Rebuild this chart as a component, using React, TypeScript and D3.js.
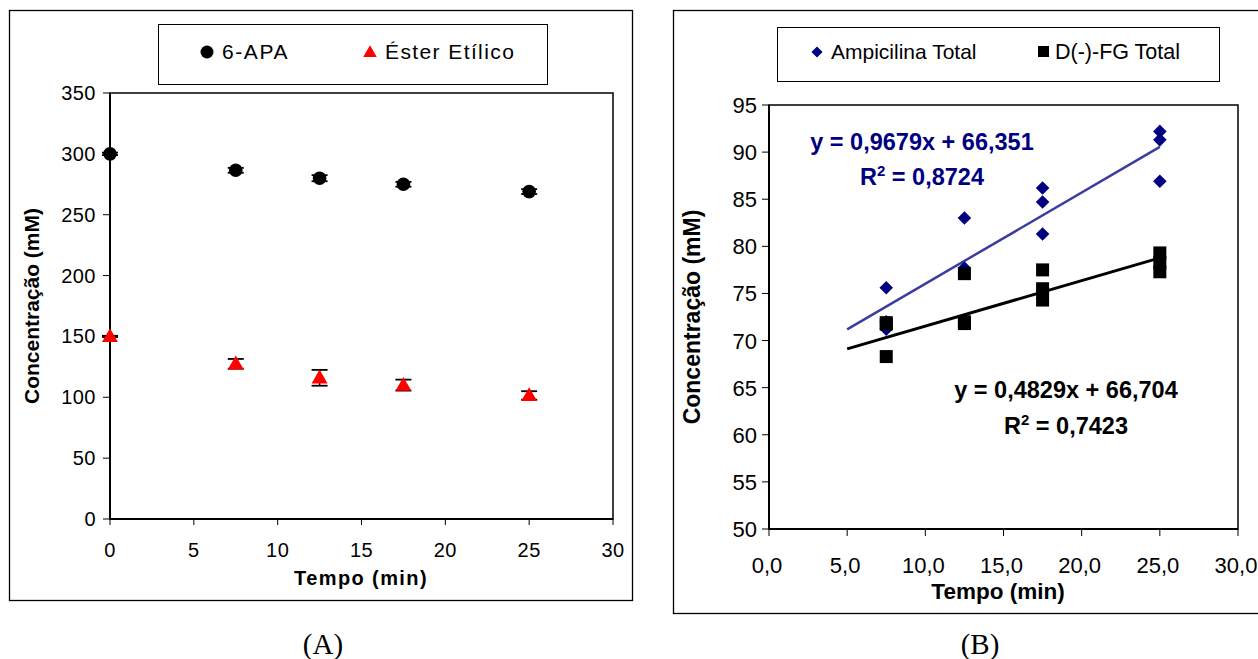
import React from "react";
import * as d3 from "d3";

// ---------- Panel A data ----------
const timesA = [0, 7.5, 12.5, 17.5, 25];
const apaValues = [300, 286.5, 280, 275, 269];
const apaErrors = [1, 2, 2.5, 2, 2];
const esterValues = [150, 127.5, 116, 110, 101.5];
const esterErrors = [0.5, 4, 6.5, 4.5, 3.5];
const ticksAX = [0, 5, 10, 15, 20, 25, 30];
const ticksAY = [0, 50, 100, 150, 200, 250, 300, 350];
const legendA = ["6-APA", "Éster Etílico"];

// ---------- Panel B data ----------
const timesB = [7.5, 7.5, 7.5, 12.5, 12.5, 12.5, 17.5, 17.5, 17.5, 25, 25, 25];
const ampValues = [75.6, 72.0, 71.2, 83.0, 77.7, 77.2, 86.2, 84.7, 81.3, 92.2, 91.3, 86.9];
const fgValues = [71.75, 71.9, 68.3, 77.1, 72.0, 71.8, 77.5, 75.5, 74.3, 79.3, 78.3, 77.3];
const ampTrend = [0.9679, 66.351]; // slope, intercept
const fgTrend = [0.4829, 66.704];
const trendRange = [5, 25];
const ticksBX = [0, 5, 10, 15, 20, 25, 30];
const ticksBY = [50, 55, 60, 65, 70, 75, 80, 85, 90, 95];
const legendB = ["Ampicilina Total", "D(-)-FG Total"];
const ampEq = ["y = 0,9679x + 66,351", "0,8724"];
const fgEq = ["y = 0,4829x + 66,704", "0,7423"];

const SANS = "'Liberation Sans', Arial, sans-serif";
const SERIF = "'Liberation Serif', 'Times New Roman', serif";

export default function App() {
  const ax = d3.scaleLinear().domain([0, 30]).range([110, 613]);
  const ay = d3.scaleLinear().domain([0, 350]).range([519, 93]);
  const bx = d3.scaleLinear().domain([0, 30]).range([769, 1238]);
  const by = d3.scaleLinear().domain([50, 95]).range([529, 105]);

  const tri = d3.symbol().type(d3.symbolTriangle).size(110);
  const triLeg = d3.symbol().type(d3.symbolTriangle).size(80);
  const dia = d3.symbol().type(d3.symbolSquare).size(92);
  const diaLeg = d3.symbol().type(d3.symbolSquare).size(62);

  const fmtB = (v: number) => d3.format(".1f")(v).replace(".", ",");

  const trendPath = (coef: number[]) =>
    d3
      .line<number>()
      .x((d) => bx(d))
      .y((d) => by(coef[0] * d + coef[1]))(trendRange) as string;

  return (
    <svg
      width={1258}
      height={659}
      style={{ position: "absolute", left: 0, top: 0, background: "#fff" }}
    >
      <rect x={0} y={0} width={1258} height={659} fill="#fff" />

      {/* ================= Panel A ================= */}
      <rect x={9.5} y={10.5} width={623} height={590} fill="none" stroke="#000" strokeWidth={1.3} />
      <rect x={158.5} y={24.5} width={389} height={60} fill="none" stroke="#000" strokeWidth={1} />
      <circle cx={207} cy={52} r={6.5} fill="#000" />
      <text x={222} y={59} fontFamily={SANS} fontSize={21} letterSpacing={1.6}>
        {legendA[0]}
      </text>
      <path d={triLeg() as string} transform="translate(370,53)" fill="#f00" />
      <text x={385} y={59} fontFamily={SANS} fontSize={21} letterSpacing={1.4}>
        {legendA[1]}
      </text>

      <rect x={ax(0)} y={ay(350)} width={ax(30) - ax(0)} height={ay(0) - ay(350)} fill="none" stroke="#000" strokeWidth={1.5} />
      <line x1={ax(0)} x2={ax(0)} y1={ay(350)} y2={ay(0)} stroke="#000" strokeWidth={2} />
      <line x1={ax(0)} x2={ax(30)} y1={ay(0)} y2={ay(0)} stroke="#000" strokeWidth={2} />

      {ticksAY.map((t) => (
        <g key={"ay" + t}>
          <line x1={ax(0) - 7} x2={ax(0)} y1={ay(t)} y2={ay(t)} stroke="#000" strokeWidth={1} />
          <text x={96} y={ay(t) + 7} textAnchor="end" fontFamily={SANS} fontSize={20} letterSpacing={0.5}>
            {t}
          </text>
        </g>
      ))}
      {ticksAX.map((t) => (
        <g key={"ax" + t}>
          <line x1={ax(t)} x2={ax(t)} y1={ay(0)} y2={ay(0) + 6} stroke="#000" strokeWidth={1} />
          <text x={ax(t)} y={557} textAnchor="middle" fontFamily={SANS} fontSize={20} letterSpacing={0.5}>
            {t}
          </text>
        </g>
      ))}
      <text x={361} y={585} textAnchor="middle" fontFamily={SANS} fontSize={20} fontWeight="bold" letterSpacing={1.4}>
        Tempo (min)
      </text>
      <text
        transform="translate(39,306) rotate(-90)"
        textAnchor="middle"
        fontFamily={SANS}
        fontSize={21}
        fontWeight="bold"
      >
        Concentração (mM)
      </text>

      {timesA.map((t, i) => (
        <g key={"apa" + i}>
          <line x1={ax(t)} x2={ax(t)} y1={ay(apaValues[i] - apaErrors[i])} y2={ay(apaValues[i] + apaErrors[i])} stroke="#000" strokeWidth={1.5} />
          <line x1={ax(t) - 8} x2={ax(t) + 8} y1={ay(apaValues[i] + apaErrors[i])} y2={ay(apaValues[i] + apaErrors[i])} stroke="#000" strokeWidth={1.8} />
          <line x1={ax(t) - 8} x2={ax(t) + 8} y1={ay(apaValues[i] - apaErrors[i])} y2={ay(apaValues[i] - apaErrors[i])} stroke="#000" strokeWidth={1.8} />
          <circle cx={ax(t)} cy={ay(apaValues[i])} r={6.8} fill="#000" />
        </g>
      ))}
      {timesA.map((t, i) => (
        <g key={"est" + i}>
          <line x1={ax(t)} x2={ax(t)} y1={ay(esterValues[i] - esterErrors[i])} y2={ay(esterValues[i] + esterErrors[i])} stroke="#000" strokeWidth={1.5} />
          <line x1={ax(t) - 8} x2={ax(t) + 8} y1={ay(esterValues[i] + esterErrors[i])} y2={ay(esterValues[i] + esterErrors[i])} stroke="#000" strokeWidth={1.8} />
          <line x1={ax(t) - 8} x2={ax(t) + 8} y1={ay(esterValues[i] - esterErrors[i])} y2={ay(esterValues[i] - esterErrors[i])} stroke="#000" strokeWidth={1.8} />
          <path d={tri() as string} transform={`translate(${ax(t)},${ay(esterValues[i]) + 1})`} fill="#f00" />
        </g>
      ))}

      <text x={323} y={654} textAnchor="middle" fontFamily={SERIF} fontSize={29}>
        (A)
      </text>

      {/* ================= Panel B ================= */}
      <rect x={673.5} y={10.5} width={600} height={603} fill="none" stroke="#000" strokeWidth={1.3} />
      <rect x={777.5} y={27.5} width={442} height={54} fill="none" stroke="#000" strokeWidth={1} />
      <path d={diaLeg() as string} transform="translate(817,52) rotate(45)" fill="#000080" />
      <text x={831} y={59} fontFamily={SANS} fontSize={21}>
        {legendB[0]}
      </text>
      <rect x={1038} y={46} width={11} height={11} fill="#000" />
      <text x={1055} y={59} fontFamily={SANS} fontSize={21.5}>
        {legendB[1]}
      </text>

      <rect x={bx(0)} y={by(95)} width={bx(30) - bx(0)} height={by(50) - by(95)} fill="none" stroke="#000" strokeWidth={1.5} />
      <line x1={bx(0)} x2={bx(0)} y1={by(95)} y2={by(50)} stroke="#000" strokeWidth={2} />
      <line x1={bx(0)} x2={bx(30)} y1={by(50)} y2={by(50)} stroke="#000" strokeWidth={2} />

      {ticksBY.map((t) => (
        <g key={"by" + t}>
          <line x1={bx(0) - 7} x2={bx(0)} y1={by(t)} y2={by(t)} stroke="#000" strokeWidth={1} />
          <text x={757} y={by(t) + 8} textAnchor="end" fontFamily={SANS} fontSize={22}>
            {t}
          </text>
        </g>
      ))}
      {ticksBX.map((t) => (
        <g key={"bx" + t}>
          <line x1={bx(t)} x2={bx(t)} y1={by(50)} y2={by(50) + 7} stroke="#000" strokeWidth={1} />
          <text x={bx(t) - 2} y={573} textAnchor="middle" fontFamily={SANS} fontSize={22}>
            {fmtB(t)}
          </text>
        </g>
      ))}
      <text x={998} y={599} textAnchor="middle" fontFamily={SANS} fontSize={22.5} fontWeight="bold">
        Tempo (min)
      </text>
      <text
        transform="translate(700,317) rotate(-90)"
        textAnchor="middle"
        fontFamily={SANS}
        fontSize={23}
        fontWeight="bold"
      >
        Concentração (mM)
      </text>

      <path d={trendPath(ampTrend)} fill="none" stroke="#3c3ca0" strokeWidth={2.5} />
      <path d={trendPath(fgTrend)} fill="none" stroke="#000" strokeWidth={3} />

      {timesB.map((t, i) => (
        <path
          key={"amp" + i}
          d={dia() as string}
          transform={`translate(${bx(t)},${by(ampValues[i])}) rotate(45)`}
          fill="#000080"
        />
      ))}
      {timesB.map((t, i) => (
        <rect key={"fg" + i} x={bx(t) - 6.5} y={by(fgValues[i]) - 6.5} width={13} height={13} fill="#000" />
      ))}

      <text x={922} y={150} textAnchor="middle" fontFamily={SANS} fontSize={23.5} fontWeight="bold" fill="#000080">
        {ampEq[0]}
      </text>
      <text x={922} y={185} textAnchor="middle" fontFamily={SANS} fontSize={23.5} fontWeight="bold" fill="#000080">
        R<tspan dy={-9} fontSize={15}>2</tspan>
        <tspan dy={9}>{" = " + ampEq[1]}</tspan>
      </text>
      <text x={1066} y={398} textAnchor="middle" fontFamily={SANS} fontSize={23.5} fontWeight="bold" fill="#000">
        {fgEq[0]}
      </text>
      <text x={1066} y={434} textAnchor="middle" fontFamily={SANS} fontSize={23.5} fontWeight="bold" fill="#000">
        R<tspan dy={-9} fontSize={15}>2</tspan>
        <tspan dy={9}>{" = " + fgEq[1]}</tspan>
      </text>

      <text x={980} y={654} textAnchor="middle" fontFamily={SERIF} fontSize={29}>
        (B)
      </text>
    </svg>
  );
}
